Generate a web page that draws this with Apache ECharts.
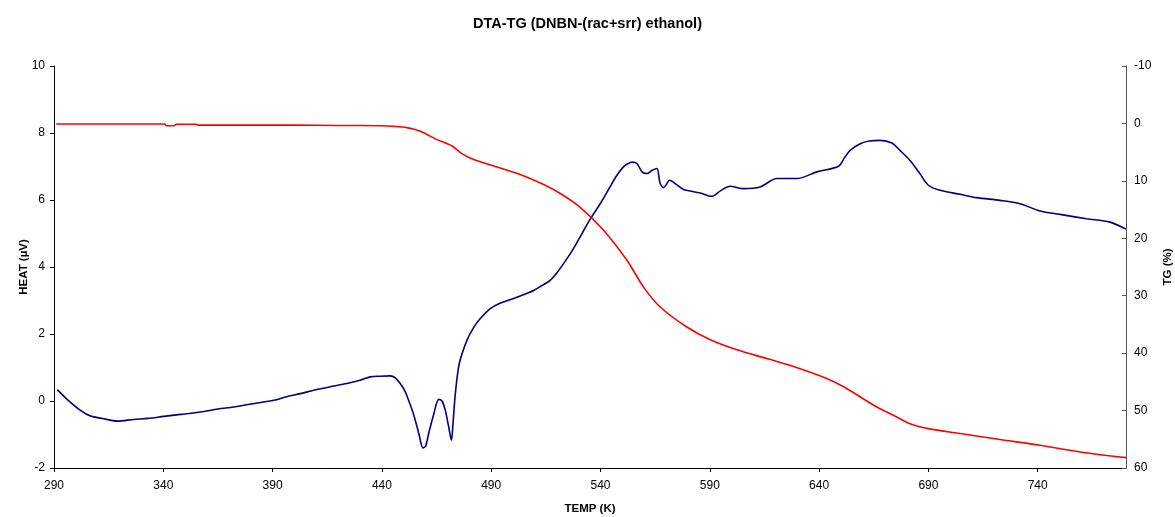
<!DOCTYPE html>
<html>
<head>
<meta charset="utf-8">
<script src="https://cdn.jsdelivr.net/npm/echarts@6/dist/echarts.min.js"></script>
<style>
  html, body { margin: 0; padding: 0; background: #fff; }
  #chart { width: 1175px; height: 517px; }
</style>
</head>
<body>
<div id="chart"></div>
<script>
// DTA curve (left axis)
const heatTemp = [291.5, 296, 302.1, 306.7, 312, 318.9, 326.5, 333, 340.2, 348, 357, 365, 372.2, 381, 390.5, 396, 402.7, 408.8, 416, 424, 430, 434.7, 439, 443.9, 446, 448.4, 450.5, 452.2, 454, 455.3, 457, 458.8, 460, 461.4, 463.5, 466, 467.5, 469, 470.5, 471.8, 472.6, 473.6, 475.4, 478.9, 482, 485, 489.6, 494, 500.2, 505, 509.4, 513, 517, 520, 523.1, 527, 530.7, 535, 539.9, 544, 547.5, 550.5, 552.5, 554.4, 556.7, 559, 561.2, 563.5, 565.8, 567.3, 568.8, 570, 571.6, 575, 578, 585.6, 590.9, 595, 599.3, 605.4, 613, 620.7, 629.8, 639, 648.9, 651.5, 654.2, 658.8, 663, 667.9, 673.3, 677, 681.6, 686, 690, 695.3, 704.5, 712.1, 722.8, 731.9, 741.1, 750.2, 762.4, 773.1, 780.4]
const heat = [0.34, 0.05, -0.28, -0.45, -0.52, -0.6, -0.55, -0.52, -0.46, -0.4, -0.33, -0.24, -0.18, -0.08, 0.02, 0.12, 0.22, 0.32, 0.42, 0.52, 0.62, 0.72, 0.74, 0.75, 0.7, 0.52, 0.3, 0.02, -0.3, -0.58, -1.0, -1.4, -1.35, -0.97, -0.45, 0.05, 0.0, -0.28, -0.75, -1.17, -0.6, 0.22, 1.12, 1.81, 2.2, 2.46, 2.76, 2.92, 3.06, 3.18, 3.3, 3.44, 3.6, 3.82, 4.1, 4.48, 4.9, 5.4, 5.89, 6.35, 6.74, 6.99, 7.08, 7.13, 7.09, 6.84, 6.79, 6.88, 6.94, 6.49, 6.37, 6.45, 6.59, 6.45, 6.31, 6.21, 6.11, 6.28, 6.41, 6.34, 6.39, 6.64, 6.64, 6.84, 7.01, 7.25, 7.48, 7.68, 7.76, 7.78, 7.7, 7.48, 7.18, 6.8, 6.44, 6.29, 6.17, 6.07, 5.99, 5.89, 5.67, 5.57, 5.44, 5.34, 5.13]

// TG curve (right axis)
const tgTemp = [291, 310, 330, 340.5, 341.5, 345, 346, 355, 356, 380, 400, 420, 440, 445, 451.5, 457.6, 465.2, 472.1, 476.6, 482, 492.7, 503.3, 514, 521.6, 530.7, 541.4, 552.1, 559.7, 567.3, 579.5, 590.2, 602.4, 616.1, 631.3, 643.5, 651, 658.8, 666, 674, 681.6, 690, 704.5, 722.8, 741.1, 759.4, 780.4]
const tg = [0.1, 0.1, 0.1, 0.1, 0.4, 0.4, 0.15, 0.15, 0.3, 0.3, 0.3, 0.35, 0.4, 0.5, 0.73, 1.37, 2.82, 3.93, 5.26, 6.3, 7.59, 8.91, 10.65, 12.2, 14.6, 18.6, 23.83, 28.5, 31.96, 35.45, 37.65, 39.4, 40.95, 42.7, 44.4, 45.8, 47.6, 49.3, 50.8, 52.3, 53.14, 54.0, 55.05, 56.05, 57.2, 58.2]

const tickFont = {fontFamily: 'Liberation Sans, Arial, sans-serif', fontSize: 12, color: '#000'}
const nameFont = {fontFamily: 'Liberation Sans, Arial, sans-serif', fontSize: 11.5, fontWeight: 'bold', color: '#000'}

const chart = echarts.init(document.getElementById('chart'))
chart.setOption({
  animation: false,
  backgroundColor: '#fff',
  title: {
    text: 'DTA-TG (DNBN-(rac+srr) ethanol)',
    left: 'center',
    top: 11,
    textStyle: {fontFamily: 'Liberation Sans, Arial, sans-serif', fontSize: 14.5, fontWeight: 'bold', color: '#000'}
  },
  grid: {left: 54, right: 49, top: 66, bottom: 49, containLabel: false, outerBoundsMode: 'none'},
  xAxis: {
    type: 'value',
    min: 290,
    max: 780.4,
    interval: 50,
    name: 'TEMP (K)',
    nameLocation: 'middle',
    nameGap: 35,
    nameTextStyle: nameFont,
    axisLine: {onZero: false, lineStyle: {color: '#000', width: 1}},
    axisTick: {show: true, length: 4, lineStyle: {color: '#000'}},
    axisLabel: Object.assign({showMaxLabel: false, margin: 12}, tickFont),
    splitLine: {show: false}
  },
  yAxis: [
    {
      type: 'value',
      min: -2,
      max: 10,
      interval: 2,
      name: 'HEAT (µV)',
      nameLocation: 'middle',
      nameRotate: 90,
      nameGap: 24,
      nameMoveOverlap: false,
      nameTextStyle: nameFont,
      axisLine: {show: true, onZero: false, lineStyle: {color: '#000', width: 1}},
      axisTick: {show: true, length: 4, lineStyle: {color: '#000'}},
      axisLabel: Object.assign({margin: 9}, tickFont),
      splitLine: {show: false}
    },
    {
      type: 'value',
      min: -10,
      max: 60,
      interval: 10,
      inverse: true,
      position: 'right',
      name: 'TG (%)',
      nameLocation: 'middle',
      nameRotate: 90,
      nameGap: 36,
      nameTextStyle: nameFont,
      axisLine: {show: true, onZero: false, lineStyle: {color: '#555', width: 1}},
      axisTick: {show: true, inside: true, length: 4, lineStyle: {color: '#555'}},
      axisLabel: Object.assign({margin: 8}, tickFont),
      splitLine: {show: false}
    }
  ],
  series: [
    {
      name: 'HEAT',
      type: 'line',
      yAxisIndex: 0,
      data: heatTemp.map((t, i) => [t, heat[i]]),
      showSymbol: false,
      smooth: 0.3,
      lineStyle: {color: '#000080', width: 1.6},
      itemStyle: {color: '#000080'}
    },
    {
      name: 'TG',
      type: 'line',
      yAxisIndex: 1,
      data: tgTemp.map((t, i) => [t, tg[i]]),
      showSymbol: false,
      smooth: 0.3,
      lineStyle: {color: '#ff0000', width: 1.6},
      itemStyle: {color: '#ff0000'}
    }
  ]
})
</script>
</body>
</html>
